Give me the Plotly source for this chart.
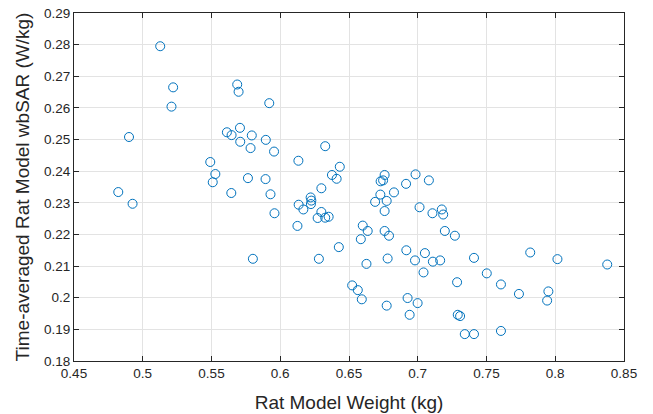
import plotly.graph_objects as go

weight_kg = [
    0.5127, 0.5221, 0.5209, 0.4900, 0.5687, 0.5697, 0.5920, 0.5612, 0.5646, 0.5707,
    0.5709, 0.5793, 0.5784, 0.5895, 0.5491, 0.5528, 0.5509, 0.5765, 0.5893, 0.5644,
    0.4822, 0.4926, 0.5929, 0.5801, 0.5955, 0.6132, 0.6327, 0.6433, 0.6376, 0.6410,
    0.6299, 0.6759, 0.6730, 0.6748, 0.6984, 0.7081, 0.6915, 0.6827, 0.5958, 0.6125,
    0.6134, 0.6168, 0.6221, 0.6226, 0.6223, 0.6299, 0.6272, 0.6327, 0.6352, 0.6426,
    0.6281, 0.6728, 0.6690, 0.6774, 0.6759, 0.6600, 0.6636, 0.6586, 0.6759, 0.6791,
    0.6627, 0.6781, 0.6917, 0.6980, 0.7052, 0.7110, 0.7163, 0.7042, 0.7013, 0.7107,
    0.7175, 0.7185, 0.7197, 0.6523, 0.6564, 0.6593, 0.6774, 0.6926, 0.6999, 0.6941,
    0.7270, 0.7409, 0.7286, 0.7502, 0.7605, 0.7736, 0.7818, 0.8016, 0.8378, 0.7950,
    0.7941, 0.7291, 0.7308, 0.7342, 0.7409, 0.7605,
]
wbsar_w_per_kg = [
    0.2795, 0.2665, 0.2604, 0.2508, 0.2674, 0.2651, 0.2615, 0.2523, 0.2514, 0.2537,
    0.2493, 0.2513, 0.2473, 0.2499, 0.2429, 0.2391, 0.2365, 0.2378, 0.2375, 0.2331,
    0.2334, 0.2297, 0.2327, 0.2123, 0.2462, 0.2433, 0.2479, 0.2414, 0.2388, 0.2376,
    0.2346, 0.2388, 0.2368, 0.2371, 0.2390, 0.2371, 0.2360, 0.2333, 0.2267, 0.2227,
    0.2294, 0.2279, 0.2317, 0.2307, 0.2296, 0.2271, 0.2252, 0.2253, 0.2256, 0.2160,
    0.2123, 0.2326, 0.2303, 0.2306, 0.2274, 0.2228, 0.2211, 0.2185, 0.2211, 0.2196,
    0.2107, 0.2124, 0.2150, 0.2118, 0.2141, 0.2114, 0.2118, 0.2080, 0.2286, 0.2267,
    0.2279, 0.2263, 0.2211, 0.2039, 0.2024, 0.1995, 0.1975, 0.1999, 0.1983, 0.1946,
    0.2196, 0.2126, 0.2049, 0.2077, 0.2042, 0.2012, 0.2143, 0.2122, 0.2105, 0.2020,
    0.1991, 0.1946, 0.1942, 0.1885, 0.1885, 0.1895,
]

x_ticks = [0.45, 0.5, 0.55, 0.6, 0.65, 0.7, 0.75, 0.8, 0.85]
x_tick_text = ["0.45", "0.5", "0.55", "0.6", "0.65", "0.7", "0.75", "0.8", "0.85"]
y_ticks = [0.18, 0.19, 0.2, 0.21, 0.22, 0.23, 0.24, 0.25, 0.26, 0.27, 0.28, 0.29]
y_tick_text = ["0.18", "0.19", "0.2", "0.21", "0.22", "0.23", "0.24", "0.25", "0.26", "0.27", "0.28", "0.29"]

x_title = "Rat Model Weight (kg)"
y_title = "Time-averaged Rat Model wbSAR (W/kg)"

FONT = "Liberation Sans, Arial, Helvetica, sans-serif"

fig = go.Figure()
fig.add_trace(go.Scatter(
    x=weight_kg, y=wbsar_w_per_kg, mode="markers",
    marker=dict(symbol="circle-open", size=9, color="#0072BD", line=dict(width=1, color="#0072BD")),
    showlegend=False,
))

axis_common = dict(
    showline=True, linecolor="#262626", linewidth=1, mirror="ticks",
    ticks="inside", ticklen=5, tickcolor="#262626", tickwidth=1,
    showgrid=True, gridcolor="#e3e3e3", gridwidth=1, zeroline=False,
    tickfont=dict(family=FONT, size=13.5, color="#262626"),
    automargin=False,
)

fig.update_xaxes(
    range=[0.45, 0.85], tickvals=x_ticks, ticktext=x_tick_text,
    title=dict(text=x_title, font=dict(family=FONT, size=19, color="#262626"), standoff=15),
    **axis_common,
)
fig.update_yaxes(
    range=[0.18, 0.29], tickvals=y_ticks, ticktext=y_tick_text,
    title=dict(text=y_title, font=dict(family=FONT, size=19, color="#262626"), standoff=9),
    **axis_common,
)

fig.update_layout(
    width=653, height=414,
    margin=dict(l=73.5, r=29, t=13, b=53),
    paper_bgcolor="white", plot_bgcolor="white",
)

fig.write_html("out.html")
